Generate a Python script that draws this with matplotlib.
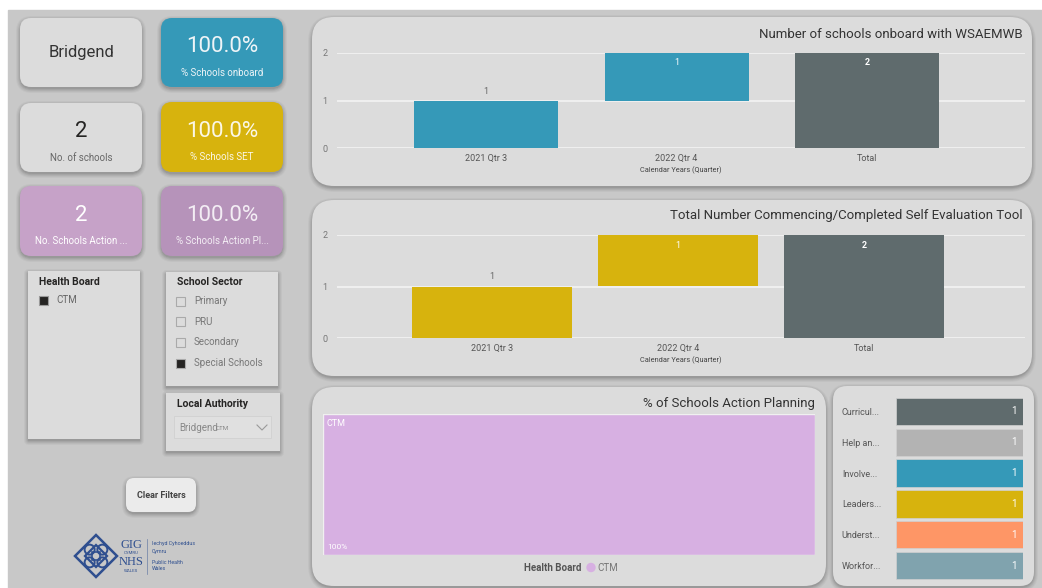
import numpy as np
import matplotlib.pyplot as plt
from matplotlib.patches import FancyBboxPatch, Rectangle, Circle, Polygon

W, H = 1042, 588
plt.rcParams['font.family'] = ['Roboto', 'DejaVu Sans']

# ---- data ----
local_authority = "Bridgend"
n_schools = 2
n_action = 2
pct_onboard = 100.0
pct_set = 100.0
pct_action = 100.0

health_boards = ["CTM"]
hb_selected = [True]
sectors = ["Primary", "PRU", "Secondary", "Special Schools"]
sector_selected = [False, False, False, True]

quarters = ["2021 Qtr 3", "2022 Qtr 4"]
onboard_counts = [1, 1]
set_counts = [1, 1]

treemap_labels = ["CTM"]
treemap_share = [1.0]

themes = ["Curricul...", "Help an...", "Involve...", "Leaders...", "Underst...", "Workfor..."]
theme_counts = [1, 1, 1, 1, 1, 1]

# ---- colours ----
bg_color = '#c8c8c8'
panel_color = '#dcdcdc'
blue = '#3599b8'
gold = '#d7b30d'
grey_total = '#5f6b6d'
purple1 = '#c6a2c8'
purple2 = '#b693ba'
tree_color = '#d7b0e2'
theme_colors = ['#5f6b6d', '#b3b3b3', '#3599b8', '#d7b30d', '#fe9666', '#80a3ae']

fig = plt.figure(figsize=(W / 100, H / 100), dpi=100)
fig.patch.set_facecolor('white')
bg = fig.add_axes([0, 0, 1, 1])
bg.set_xlim(0, W)
bg.set_ylim(H, 0)
bg.axis('off')
bg.add_patch(Rectangle((8, 10), W - 8, H - 10, color=bg_color, zorder=0))


def px_axes(x0, y0, x1, y1):
    ax = fig.add_axes([x0 / W, 1 - y1 / H, (x1 - x0) / W, (y1 - y0) / H])
    ax.set_facecolor('none')
    return ax


def panel(x0, y0, x1, y1, color=panel_color, r=20, shadow=True):
    if shadow:
        for i, a in enumerate([0.07, 0.06, 0.05, 0.04, 0.03]):
            d = i + 1
            bg.add_patch(FancyBboxPatch((x0 - d + 1, y0 - d + 3), x1 - x0 + 2 * d - 2, y1 - y0 + 2 * d - 2,
                                        boxstyle="round,pad=0,rounding_size=%d" % (r + d),
                                        fc='black', ec='none', alpha=a, zorder=1))
    if r > 0:
        bg.add_patch(FancyBboxPatch((x0, y0), x1 - x0, y1 - y0,
                                    boxstyle="round,pad=0,rounding_size=%d" % r,
                                    fc=color, ec='none', zorder=2))
    else:
        bg.add_patch(Rectangle((x0, y0), x1 - x0, y1 - y0, fc=color, ec='none', zorder=2))


# ---- cards ----
def card(x0, y0, x1, y1, color, value, label, vcolor, lcolor):
    panel(x0, y0, x1, y1, color=color, r=11)
    cx = (x0 + x1) / 2
    if label:
        bg.text(cx, y0 + 0.42 * (y1 - y0), value, ha='center', va='center', fontsize=16, color=vcolor, zorder=5)
        bg.text(cx, y0 + 0.79 * (y1 - y0), label, ha='center', va='center', fontsize=7, color=lcolor, zorder=5)
    else:
        bg.text(cx, (y0 + y1) / 2, value, ha='center', va='center', fontsize=12, color=vcolor, zorder=5)


card(20, 18, 142, 87, panel_color, local_authority, None, '#333333', None)
card(161, 18, 283, 87, blue, "%.1f%%" % pct_onboard, "% Schools onboard", '#eef4f7', '#eef4f7')
card(20, 103, 142, 172, panel_color, str(n_schools), "No. of schools", '#252423', '#666666')
card(161, 102, 283, 172, gold, "%.1f%%" % pct_set, "% Schools SET", '#fbf7e6', '#fbf7e6')
card(20, 186, 142, 256, purple1, str(n_action), "No. Schools Action ...", 'white', 'white')
card(161, 186, 283, 256, purple2, "%.1f%%" % pct_action, "% Schools Action Pl...", '#f3edf4', '#f3edf4')

# ---- slicers ----
panel(28, 271, 140, 439, r=0)
bg.text(39, 282, "Health Board", fontsize=7.5, fontweight='bold', color='#252423', va='center', zorder=5)
for i, (name, sel) in enumerate(zip(health_boards, hb_selected)):
    y = 300 + i * 21
    bg.add_patch(Rectangle((39, y - 4.5), 9, 9, fc='#252423' if sel else 'none', ec='#999999', lw=0.8, zorder=5))
    bg.text(56, y, name, fontsize=7, color='#666666', va='center', zorder=5)

panel(166, 272, 278, 386, r=0)
bg.text(177, 282, "School Sector", fontsize=7.5, fontweight='bold', color='#252423', va='center', zorder=5)
for i, (name, sel) in enumerate(zip(sectors, sector_selected)):
    y = 301 + i * 20.7
    bg.add_patch(Rectangle((176, y - 4.5), 9, 9, fc='#252423' if sel else 'none', ec='#aaaaaa', lw=0.8, zorder=5))
    bg.text(194, y, name, fontsize=7, color='#777777', va='center', zorder=5)

panel(166, 393, 280, 451, r=0)
bg.text(177, 404, "Local Authority", fontsize=7.5, fontweight='bold', color='#252423', va='center', zorder=5)
bg.add_patch(Rectangle((174, 416), 97, 22, fc='#e0e0e0', ec='#d0d0d0', lw=0.6, zorder=5))
bg.text(179, 428, local_authority, fontsize=7, color='#888888', va='center', zorder=6)
bg.text(216, 429, "CTM", fontsize=4.5, color='#888888', va='center', zorder=6)
bg.plot([257, 262, 267], [425, 430, 425], color='#999999', lw=0.8, zorder=6)

# clear filters button
panel(126, 478, 196, 512, color='#ebebeb', r=8)
bg.text(161, 495, "Clear Filters", fontsize=6.5, fontweight='bold', color='#444444',
        ha='center', va='center', zorder=5)

# ---- logo ----
logo_blue = '#2f4f8f'
cx, cy = 96, 556
bg.add_patch(Polygon([[cx, cy - 21], [cx + 21, cy], [cx, cy + 21], [cx - 21, cy]], closed=True,
                     fill=False, ec=logo_blue, lw=1.8, zorder=5))
bg.add_patch(Polygon([[cx, cy - 11], [cx + 11, cy], [cx, cy + 11], [cx - 11, cy]], closed=True,
                     fill=False, ec=logo_blue, lw=1.6, zorder=5))
for ang in [45, 135, 225, 315]:
    t = np.deg2rad(ang)
    bg.add_patch(Circle((cx + 9 * np.cos(t), cy + 9 * np.sin(t)), 5, fill=False, ec=logo_blue, lw=1.4, zorder=5))
bg.add_patch(Rectangle((cx - 4, cy - 4), 8, 8, fill=False, ec=logo_blue, lw=1.2, zorder=5))
bg.text(131, 545, "GIG", fontsize=9, color=logo_blue, ha='center', va='center', family='Liberation Serif', zorder=5)
bg.text(131, 553, "CYMRU", fontsize=3.2, color=logo_blue, ha='center', va='center', zorder=5)
bg.text(131, 562, "NHS", fontsize=9, color=logo_blue, ha='center', va='center', family='Liberation Serif', zorder=5)
bg.text(131, 571, "WALES", fontsize=3.2, color=logo_blue, ha='center', va='center', zorder=5)
bg.plot([147, 147], [539, 574], color=logo_blue, lw=0.5, alpha=0.6, zorder=5)
for txt, y in [("Iechyd Cyhoeddus", 544), ("Cymru", 551), ("Public Health", 562), ("Wales", 569)]:
    bg.text(152, y, txt, fontsize=3.8, color=logo_blue, va='center', zorder=5)

# ---- waterfall charts ----
def waterfall(box, title, title_y, cats, vals, color, centers_px, bar_px):
    x0, y0, x1, y1 = box
    panel(312, y0 - 36 if title_y < 100 else y0 - 35, 1032, y1 + 38, r=22)
    bg.text(1023, title_y, title, ha='right', va='center', fontsize=9.5, color='#333333', zorder=5)
    ax = px_axes(x0, y0, x1, y1)
    ax.set_zorder(3)
    spacing = (centers_px[2] - centers_px[0]) / 2.0
    ax.set_xlim(-(centers_px[0] - x0) / spacing, (x1 - centers_px[0]) / spacing)
    total = sum(vals)
    ax.set_ylim(0, total)
    bottoms = np.cumsum([0] + vals[:-1])
    xs = np.arange(len(cats) + 1)
    width = bar_px / spacing
    ax.bar(xs[:-1], vals, bottom=bottoms, width=width, color=color, zorder=3)
    ax.bar(xs[-1], total, width=width, color=grey_total, zorder=3)
    for x, v, b in zip(xs[:-1], vals, bottoms):
        top = b + v
        if top >= total:
            ax.text(x, top - 0.2, str(v), ha='center', va='center', fontsize=6.5, color='white', zorder=4)
        else:
            ax.text(x, top + 0.2, str(v), ha='center', va='center', fontsize=6.5, color='#666666', zorder=4)
    ax.text(xs[-1], total - 0.2, str(total), ha='center', va='center', fontsize=6.5,
            fontweight='bold', color='white', zorder=4)
    ax.set_xticks(xs)
    ax.set_xticklabels(cats + ["Total"], fontsize=6.5, color='#555555')
    ax.set_yticks([0, 1, 2])
    ax.set_yticklabels(['0', '1', '2'], fontsize=6.5, color='#777777')
    ax.tick_params(length=0, pad=4)
    ax.tick_params(axis='y', pad=7)
    ax.yaxis.grid(True, color='#f2f2f2', lw=1.3)
    ax.set_axisbelow(True)
    for s in ax.spines.values():
        s.set_visible(False)
    ax.set_xlabel("Calendar Years (Quarter)", fontsize=5.3, color='#444444', labelpad=3)
    return ax


waterfall((337, 53, 1025, 148), "Number of schools onboard with WSAEMWB", 34,
          quarters, onboard_counts, blue, [486, 676, 867], 144)
waterfall((337, 235, 1025, 338), "Total Number Commencing/Completed Self Evaluation Tool", 216,
          quarters, set_counts, gold, [492, 678, 864], 160)

# ---- treemap ----
panel(312, 387, 826, 586, r=22)
bg.text(815, 403, "% of Schools Action Planning", ha='right', va='center', fontsize=9.5, color='#333333', zorder=5)
tax = px_axes(323, 414, 815, 555)
tax.set_zorder(3)
tax.set_xlim(0, 1)
tax.set_ylim(0, 1)
tax.axis('off')
left = 0
for lab, share in zip(treemap_labels, treemap_share):
    tax.barh(0.5, share, height=1, left=left, color=tree_color, edgecolor='#f0f0f0', lw=1)
    tax.text(left + 0.008, 0.93, lab, fontsize=6.5, color='white', va='center')
    tax.text(left + 0.008, 0.06, "%d%%" % round(share * 100), fontsize=6, color='white', va='center')
    left += share
bg.text(581, 568, "Health Board", ha='right', va='center', fontsize=7, fontweight='bold', color='#555555', zorder=5)
bg.add_patch(Circle((591, 567.5), 4, color=tree_color, zorder=5))
bg.text(597, 568, treemap_labels[0], ha='left', va='center', fontsize=7, color='#777777', zorder=5)

# ---- themes bar ----
panel(833, 386, 1034, 586, r=14)
hax = px_axes(896, 396, 1023, 581)
hax.set_zorder(3)
ys = np.arange(len(themes))
hax.barh(ys, theme_counts, height=0.89, color=theme_colors, edgecolor='#d0d0d0', lw=0.5)
hax.set_xlim(0, max(theme_counts))
hax.set_ylim(len(themes) - 0.5, -0.5)
hax.set_yticks(ys)
hax.set_yticklabels(themes, fontsize=6.5, color='#555555', ha='left')
hax.tick_params(length=0, pad=39)
hax.set_xticks([])
for s in hax.spines.values():
    s.set_visible(False)
for y, v in zip(ys, theme_counts):
    hax.text(v - 0.05, y, str(v), ha='right', va='center', fontsize=7, color='white')

fig.savefig('out.png', dpi=100, facecolor=fig.get_facecolor())
